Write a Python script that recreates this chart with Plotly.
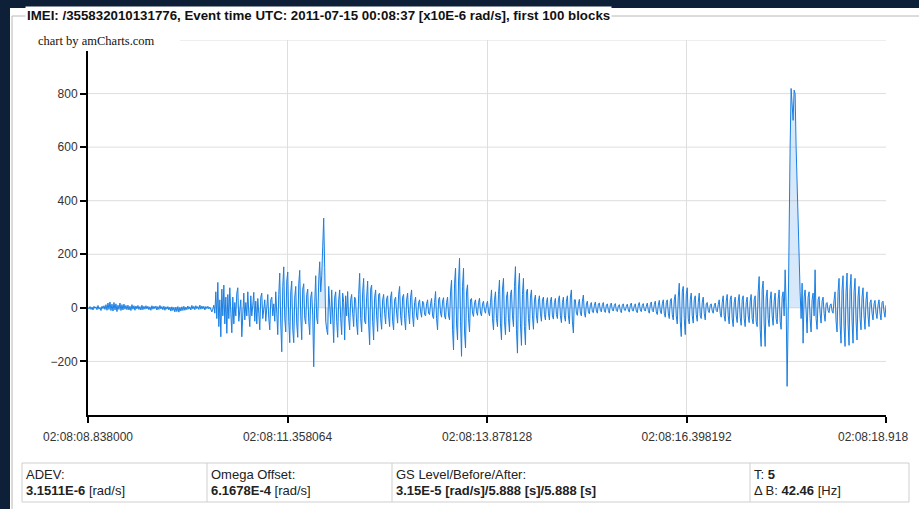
import plotly.graph_objects as go

# ---------------- data ----------------
TIME_SPAN_S = 10.08
X_TICK_SECONDS = [0.0, 2.520064, 5.040128, 7.560192, 10.08]
X_TICK_LABELS = ["02:08:08.838000", "02:08:11.358064", "02:08:13.878128",
                 "02:08:16.398192", "02:08:18.918"]
Y_TICK_VALUES = [-200, 0, 200, 400, 600, 800]
Y_GRID_VALUES = [-400, -200, 0, 200, 400, 600, 800, 1000]

omega = [
    2, -4, 5, -6, 3, -8, 6, -2, 4, -7, 9, -5, 2, -10, 6, -3, 8, -6, 12, -9,
    18, -6, 22, -10, 14, -12, 20, -8, 15, -14, 10, -6, 18, -10, 12, -8, 14, -5, 9, -7,
    10, -8, 6, -10, 12, -5, 8, -9, 7, -4, 9, -6, 5, -8, 10, -7, 6, -5, 8, -4,
    6, -7, 4, -9, 8, -5, 6, -3, 7, -8, 5, -6, 9, -4, 5, -7, 6, -9, 4, -5,
    5, -8, 3, -12, 4, -10, 2, -15, 3, -14, 5, -16, 2, -12, 4, -10, 6, -9, 3, -7,
    7, -5, 4, -8, 9, -4, 6, -7, 8, -3, 5, -6, 10, -5, 7, -4, 6, -8, 5, -3,
    6, -4, 3, -8, -15, -5, 10, -20, 60, -40, 95, -70, 30, -108, 70, -30, 85, -60, 40, -95,
    50, -40, 75, -20, -93, 40, -60, 20, -30, 55, 75, -50, -20, 30, -108, 10, 55, -45, 20, -30,
    60, -20, -70, 45, -30, 10, 58, -50, 25, -60, 35, -20, -82, 40, 55, -40, -10, 30, -50, 20,
    50, -40, -82, 30, 40, -30, 15, -50, 60, -20, -100, 50, 130, -60, -164, 80, 153, -40, -90, 100,
    134, -50, -130, 60, 100, -80, -130, 40, 80, -60, -110, 90, 140, -30, -119, 70, 90, -40, -60, 50,
    70, -50, -100, 40, 60, -30, -220, 20, 120, -40, -60, 100, 172, 60, 120, 228, 335, 150, -50, -80,
    -100, 80, 20, -60, 67, -30, -130, 40, 60, -50, -110, 30, 67, -40, -100, 55, 20, -120, 45, -30,
    61, -40, -82, 30, 50, -20, -70, 40, 30, -60, -100, 50, 129, -40, -90, 60, 110, -50, -60, 40,
    100, -60, -138, 70, 85, -50, -120, 40, 67, -30, -88, 50, 55, -40, -80, 30, 50, -20, -60, 35,
    45, -30, -70, 40, 60, -50, -82, 30, 40, -20, -57, 50, 80, -30, -65, 40, 50, -40, -82, 30,
    55, -20, -60, 40, 67, -30, -70, 20, 40, -30, -45, 20, 30, -15, -35, 25, 20, -25, -30, 15,
    30, -20, -25, 15, 35, -30, -40, 20, 61, -40, -82, 30, 40, -20, -35, 25, 38, -30, -42, 20,
    40, -30, -45, 60, 104, -80, -157, 90, 148, -60, -120, 100, 185, -50, -181, 80, 148, -90, -150, 60,
    86, -40, -90, 30, 35, -20, -32, 20, 30, -15, -28, 20, 36, -20, -30, 15, 25, -10, -20, 12,
    25, -15, -30, 20, 67, -40, -82, 30, 60, -40, -70, 50, 104, -60, -119, 70, 110, -50, -100, 40,
    60, -40, -90, 50, 67, -30, -70, 80, 154, -80, -169, 70, 129, -60, -140, 50, 110, -70, -138, 60,
    70, -40, -82, 40, 67, -30, -80, 30, 48, -30, -57, 25, 45, -20, -50, 30, 40, -25, -45, 20,
    38, -20, -45, 25, 40, -30, -42, 20, 35, -25, -40, 30, 45, -30, -55, 20, 40, -30, -50, 25,
    45, -30, -60, 40, 67, -50, -94, 30, 30, -20, -28, 15, 32, -20, -30, 25, 48, -20, -35, 15,
    25, -15, -22, 12, 20, -15, -18, 10, 22, -12, -20, 15, 18, -10, -15, 12, 20, -12, -17, 10,
    15, -10, -20, 12, 18, -8, -12, 10, 16, -10, -14, 8, 12, -10, -18, 10, 15, -8, -10, 6,
    14, -8, -16, 10, 18, -10, -12, 8, 15, -12, -18, 10, 20, -8, -14, 10, 16, -8, -12, 6,
    18, -10, -20, 12, 22, -10, -15, 12, 25, -15, -25, 10, 28, -12, -22, 15, 30, -20, -35, 20,
    30, -20, -40, 25, 35, -25, -45, 30, 50, -30, -60, 40, 92, -50, -107, 60, 80, -40, -100, 50,
    75, -40, -60, 30, 55, -30, -57, 30, 45, -25, -50, 20, 55, -30, -40, 20, 40, -20, -45, 15,
    20, -10, -18, 10, 15, -12, -20, 8, 18, -10, -15, 12, 30, -20, -35, 20, 45, -30, -50, 25,
    50, -30, -60, 30, 45, -40, -70, 20, 40, -30, -55, 25, 50, -35, -65, 30, 45, -40, -70, 20,
    40, -30, -55, 25, 50, -40, -60, 30, 45, -50, -70, 60, 117, -80, -144, 70, 100, -60, -144, 40,
    67, -40, -70, 30, 60, -30, -65, 25, 55, -40, -60, 30, 67, -50, -80, 40, 60, -30, 142, 20,
    -293, -50, 390, 600, 819, 760, 700, 813, 800, 600, 450, 266, 142, 60, -40, 92, -132, 40, 67, -60,
    -94, 40, 60, -40, -90, 30, 55, -30, 142, -40, -80, 30, 42, -20, -57, 25, 40, -20, -50, 15,
    20, -10, -18, 10, 15, -12, -20, 30, 60, -50, -90, 60, 110, -60, -132, 70, 120, -70, -144, 60,
    130, -60, -140, 70, 125, -50, -132, 60, 110, -50, -120, 40, 80, -40, -82, 40, 75, -30, -80, 30,
    60, -30, -70, 20, 30, -20, -45, 15, 28, -20, -40, 10, 30, -20, -45, 20, 25, -15, -35, 10,
]
sample_period = TIME_SPAN_S / (len(omega) - 1)
times = [i * sample_period for i in range(len(omega))]

table_cells = [
    ("ADEV:", "<b>3.1511E-6</b> [rad/s]"),
    ("Omega Offset:", "<b>6.1678E-4</b> [rad/s]"),
    ("GS Level/Before/After:", "<b>3.15E-5 [rad/s]/5.888 [s]/5.888 [s]</b>"),
    ("T: <b>5</b>", "Δ B: <b>42.46</b> [Hz]"),
]
TITLE = "IMEI: /355832010131776, Event time UTC: 2011-07-15 00:08:37 [x10E-6 rad/s], first 100 blocks"

# ---------------- layout geometry ----------------
W, H = 919, 509
L, R, T, B = 88, 886, 40, 415


def px(x):
    return (x - L) / (R - L)


def py(y):
    return (B - y) / (B - T)


FONT = "Liberation Sans, Arial, sans-serif"
DARK = "#0d2038"
fig = go.Figure()
fig.add_trace(go.Scatter(
    x=times, y=omega, mode="lines",
    line=dict(color="#1a7fe3", width=1),
    fill="tozeroy", fillcolor="rgba(30,130,230,0.18)",
    hoverinfo="skip", showlegend=False,
))

shapes = []
# dark page background strips around the white card
shapes.append(dict(type="rect", xref="paper", yref="paper", layer="below",
                   x0=px(-5), x1=px(10), y0=py(-5), y1=py(H + 5),
                   fillcolor=DARK, line=dict(width=0)))
shapes.append(dict(type="rect", xref="paper", yref="paper", layer="below",
                   x0=px(-5), x1=px(W + 5), y0=py(-5), y1=py(8),
                   fillcolor=DARK, line=dict(width=0)))
# fieldset border
shapes.append(dict(type="line", xref="paper", yref="paper", layer="below",
                   x0=px(12), x1=px(W + 5), y0=py(16), y1=py(16),
                   line=dict(color="#b8b8b8", width=1)))
shapes.append(dict(type="line", xref="paper", yref="paper", layer="below",
                   x0=px(12), x1=px(12), y0=py(16), y1=py(H + 5),
                   line=dict(color="#b8b8b8", width=1)))
# info table
TX0, TX1, TY0, TY1 = 22, 909, 463, 502
dividers = [207, 392, 750]
shapes.append(dict(type="rect", xref="paper", yref="paper",
                   x0=px(TX0), x1=px(TX1), y0=py(TY0), y1=py(TY1),
                   fillcolor="white", line=dict(color="#cfcfcf", width=1)))
for d in dividers:
    shapes.append(dict(type="line", xref="paper", yref="paper",
                       x0=px(d), x1=px(d), y0=py(TY0), y1=py(TY1),
                       line=dict(color="#cfcfcf", width=1)))
# white backing box of the credit label (hides top of axis / grid line)
shapes.append(dict(type="rect", xref="paper", yref="paper", layer="above",
                   x0=px(30), x1=px(180), y0=py(51), y1=py(31),
                   fillcolor="white", line=dict(width=0)))

annotations = []
annotations.append(dict(xref="paper", yref="paper", x=px(25), y=py(16),
                        xanchor="left", yanchor="middle", showarrow=False,
                        text="<b>" + TITLE + "</b>", bgcolor="white", borderpad=1,
                        font=dict(family=FONT, size=13.3, color="#111")))
annotations.append(dict(xref="paper", yref="paper", x=px(36), y=py(41),
                        xanchor="left", yanchor="middle", showarrow=False,
                        text="chart by amCharts.com",
                        font=dict(family="Liberation Serif, serif", size=12.5, color="#111")))
# last x label is shifted left to stay inside the card
annotations.append(dict(xref="paper", yref="paper", x=px(910), y=py(437),
                        xanchor="right", yanchor="middle", showarrow=False,
                        text=X_TICK_LABELS[-1],
                        font=dict(family=FONT, size=12, color="#333")))
cell_lefts = [TX0] + dividers
for left, (l1, l2) in zip(cell_lefts, table_cells):
    annotations.append(dict(xref="paper", yref="paper", x=px(left + 2), y=py(474),
                            xanchor="left", yanchor="middle", showarrow=False, text=l1,
                            font=dict(family=FONT, size=13, color="#222")))
    annotations.append(dict(xref="paper", yref="paper", x=px(left + 2), y=py(491),
                            xanchor="left", yanchor="middle", showarrow=False, text=l2,
                            font=dict(family=FONT, size=13, color="#222")))

fig.update_layout(
    width=W, height=H,
    margin=dict(l=L, r=W - R, t=T, b=H - B, pad=0, autoexpand=False),
    paper_bgcolor="white", plot_bgcolor="white",
    shapes=shapes, annotations=annotations,
    xaxis=dict(range=[0, TIME_SPAN_S], tickvals=X_TICK_SECONDS,
               ticktext=X_TICK_LABELS[:-1] + [""],
               showgrid=True, gridcolor="#dedede", gridwidth=1,
               showline=True, linecolor="black", linewidth=2,
               ticks="outside", ticklen=6, tickcolor="black", tickwidth=1.5,
               ticklabelstandoff=4, automargin=False,
               tickfont=dict(family=FONT, size=12, color="#333"),
               zeroline=False, fixedrange=True),
    yaxis=dict(range=[-400, 1000], tickvals=Y_TICK_VALUES,
               showgrid=False, automargin=False,
               showline=True, linecolor="black", linewidth=2,
               ticks="outside", ticklen=6, tickcolor="black", tickwidth=1.5,
               tickfont=dict(family=FONT, size=12, color="#333"),
               zeroline=False, fixedrange=True),
)
# horizontal grid lines including top border line
for gv in Y_GRID_VALUES[1:]:
    fig.add_shape(type="line", xref="paper", yref="y", x0=0, x1=1, y0=gv, y1=gv,
                  layer="below", line=dict(color="#dedede", width=1))

fig.write_html(
    "out.html",
    post_script="document.documentElement.style.overflow='hidden';"
                "document.documentElement.style.background='white';"
                "document.body.style.background='white';"
                "document.body.style.overflow='hidden';document.body.style.margin='0';",
)
